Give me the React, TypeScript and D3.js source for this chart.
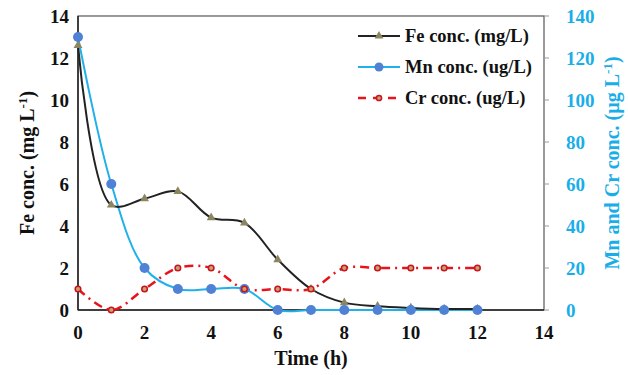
import React, { useRef, useEffect } from "react";
import * as d3 from "d3";

// hours
const times = [0, 1, 2, 3, 4, 5, 6, 7, 8, 9, 10, 11, 12];
// mg/L, left axis
const feConc = [12.6, 5.0, 5.3, 5.65, 4.4, 4.15, 2.4, 1.0, 0.35, 0.18, 0.1, 0.05, 0.05];
// ug/L, right axis
const mnConc = [130, 60, 20, 10, 10, 10, 0, 0, 0, 0, 0, 0, 0];
const crConc = [10, 0, 10, 20, 20, 10, 10, 10, 20, 20, 20, 20, 20];

const xTicks = [0, 2, 4, 6, 8, 10, 12, 14];
const leftTicks = [0, 2, 4, 6, 8, 10, 12, 14];
const rightTicks = [0, 20, 40, 60, 80, 100, 120, 140];

const legendItems = ["Fe conc. (mg/L)", "Mn conc. (ug/L)", "Cr conc. (ug/L)"];

const FONT = "'Times New Roman', 'Liberation Serif', 'DejaVu Serif', serif";
const FE_LINE = "#222";
const FE_MARK = "#8c8660";
const MN_LINE = "#20b0ea";
const MN_MARK = "#4f82d4";
const CR_LINE = "#e8141c";
const RIGHT_COL = "#1aaee8";

const App = () => {
	const ref = useRef<SVGSVGElement>(null);

	useEffect(() => {
		const width = 628;
		const height = 375;
		const m = { top: 16, right: 84, bottom: 65, left: 78 };

		const svg = d3.select(ref.current);
		svg.selectAll("*").remove();

		const x = d3.scaleLinear().domain([0, 14]).range([m.left, width - m.right]);
		const yL = d3.scaleLinear().domain([0, 14]).range([height - m.bottom, m.top]);
		const yR = d3.scaleLinear().domain([0, 140]).range([height - m.bottom, m.top]);

		// plot frame
		svg.append("rect")
			.attr("x", m.left)
			.attr("y", m.top)
			.attr("width", x(14) - m.left)
			.attr("height", yL(0) - m.top)
			.attr("fill", "none")
			.attr("stroke", "#555")
			.attr("stroke-width", 1.2);

		// left axis
		svg.append("line")
			.attr("x1", m.left).attr("x2", m.left)
			.attr("y1", m.top).attr("y2", yL(0))
			.attr("stroke", "#222").attr("stroke-width", 1.5);
		svg.append("line")
			.attr("x1", m.left).attr("x2", x(14))
			.attr("y1", yL(0)).attr("y2", yL(0))
			.attr("stroke", "#222").attr("stroke-width", 1.5);

		svg.append("g")
			.selectAll("text")
			.data(leftTicks)
			.enter()
			.append("text")
			.attr("x", m.left - 9)
			.attr("y", d => yL(d))
			.attr("dy", "0.35em")
			.attr("text-anchor", "end")
			.attr("font-family", FONT)
			.attr("font-weight", "bold")
			.attr("font-size", 19)
			.attr("fill", "#111")
			.text(d => d);

		svg.append("g")
			.selectAll("text")
			.data(xTicks)
			.enter()
			.append("text")
			.attr("x", d => x(d))
			.attr("y", yL(0) + 29)
			.attr("text-anchor", "middle")
			.attr("font-family", FONT)
			.attr("font-weight", "bold")
			.attr("font-size", 19)
			.attr("fill", "#111")
			.text(d => d);

		// right axis
		const right = svg.append("g").attr("transform", `translate(${x(14)},0)`);
		right.selectAll("line")
			.data(rightTicks)
			.enter()
			.append("line")
			.attr("x1", 0).attr("x2", 5)
			.attr("y1", d => yR(d)).attr("y2", d => yR(d))
			.attr("stroke", "#999");
		right.selectAll("text")
			.data(rightTicks)
			.enter()
			.append("text")
			.attr("x", 22)
			.attr("y", d => yR(d))
			.attr("dy", "0.35em")
			.attr("font-family", FONT)
			.attr("font-weight", "bold")
			.attr("font-size", 19)
			.attr("fill", RIGHT_COL)
			.text(d => d);

		// axis titles
		svg.append("text")
			.attr("x", (m.left + x(14)) / 2)
			.attr("y", 365)
			.attr("text-anchor", "middle")
			.attr("font-family", FONT)
			.attr("font-weight", "bold")
			.attr("font-size", 20)
			.attr("fill", "#111")
			.text("Time (h)");

		const leftTitle = svg.append("text")
			.attr("transform", `translate(34,${(m.top + yL(0)) / 2}) rotate(-90)`)
			.attr("text-anchor", "middle")
			.attr("font-family", FONT)
			.attr("font-weight", "bold")
			.attr("font-size", 20)
			.attr("fill", "#111");
		leftTitle.append("tspan").text("Fe conc. (mg L");
		leftTitle.append("tspan").attr("dy", -7).attr("font-size", 13).text("-1");
		leftTitle.append("tspan").attr("dy", 7).text(")");

		const rightTitle = svg.append("text")
			.attr("transform", `translate(619,${(m.top + yL(0)) / 2}) rotate(-90)`)
			.attr("text-anchor", "middle")
			.attr("font-family", FONT)
			.attr("font-weight", "bold")
			.attr("font-size", 20)
			.attr("fill", RIGHT_COL);
		rightTitle.append("tspan").text("Mn and Cr conc. (µg L");
		rightTitle.append("tspan").attr("dy", -7).attr("font-size", 13).text("-1");
		rightTitle.append("tspan").attr("dy", 7).text(")");

		const curve = d3.curveCatmullRom.alpha(0.5);

		// Cr
		const crLine = d3.line<number>()
			.x((_, i) => x(times[i]))
			.y(d => yR(d))
			.curve(curve);
		svg.append("path")
			.attr("d", crLine(crConc))
			.attr("fill", "none")
			.attr("stroke", CR_LINE)
			.attr("stroke-width", 2.5)
			.attr("stroke-dasharray", "9,5,2,5");

		// Mn
		const mnLine = d3.line<number>()
			.x((_, i) => x(times[i]))
			.y(d => yR(d))
			.curve(curve);
		svg.append("path")
			.attr("d", mnLine(mnConc))
			.attr("fill", "none")
			.attr("stroke", MN_LINE)
			.attr("stroke-width", 2);

		// Fe
		const feLine = d3.line<number>()
			.x((_, i) => x(times[i]))
			.y(d => yL(d))
			.curve(curve);
		svg.append("path")
			.attr("d", feLine(feConc))
			.attr("fill", "none")
			.attr("stroke", FE_LINE)
			.attr("stroke-width", 2);

		const tri = d3.symbol().type(d3.symbolTriangle).size(34);

		svg.append("g")
			.selectAll("path")
			.data(feConc)
			.enter()
			.append("path")
			.attr("d", tri)
			.attr("transform", (d, i) => `translate(${x(times[i])},${yL(d)})`)
			.attr("fill", FE_MARK);

		svg.append("g")
			.selectAll("circle")
			.data(mnConc)
			.enter()
			.append("circle")
			.attr("cx", (_, i) => x(times[i]))
			.attr("cy", d => yR(d))
			.attr("r", 5)
			.attr("fill", MN_MARK);

		svg.append("g")
			.selectAll("circle")
			.data(crConc)
			.enter()
			.append("circle")
			.attr("cx", (_, i) => x(times[i]))
			.attr("cy", d => yR(d))
			.attr("r", 2.8)
			.attr("fill", "#c9a070")
			.attr("stroke", "#c8141c")
			.attr("stroke-width", 1.5);

		// legend
		const lg = svg.append("g");
		const ly = [36, 67, 98];
		legendItems.forEach((label, i) => {
			const row = lg.append("g").attr("transform", `translate(0,${ly[i]})`);
			const line = row.append("line")
				.attr("x1", 358).attr("x2", 400)
				.attr("y1", 0).attr("y2", 0)
				.attr("stroke-width", i === 2 ? 2.5 : 2);
			if (i === 0) {
				line.attr("stroke", FE_LINE);
				row.append("path").attr("d", tri).attr("transform", "translate(379,0)").attr("fill", FE_MARK);
			} else if (i === 1) {
				line.attr("stroke", MN_LINE);
				row.append("circle").attr("cx", 379).attr("cy", 0).attr("r", 4.5).attr("fill", MN_MARK);
			} else {
				line.attr("stroke", CR_LINE).attr("stroke-dasharray", "8,7,8,7");
				row.append("circle").attr("cx", 379).attr("cy", 0).attr("r", 2.6)
					.attr("fill", "#c9a070").attr("stroke", "#c8141c").attr("stroke-width", 1.5);
			}
			row.append("text")
				.attr("x", 405)
				.attr("y", 0)
				.attr("dy", "0.35em")
				.attr("font-family", FONT)
				.attr("font-weight", "bold")
				.attr("font-size", 18.5)
				.attr("fill", "#111")
				.text(label);
		});
	}, []);

	return (
		<svg
			ref={ref}
			width={628}
			height={375}
			style={{ position: "absolute", left: 0, top: 0, background: "#fff" }}
		/>
	);
};

export default App;
